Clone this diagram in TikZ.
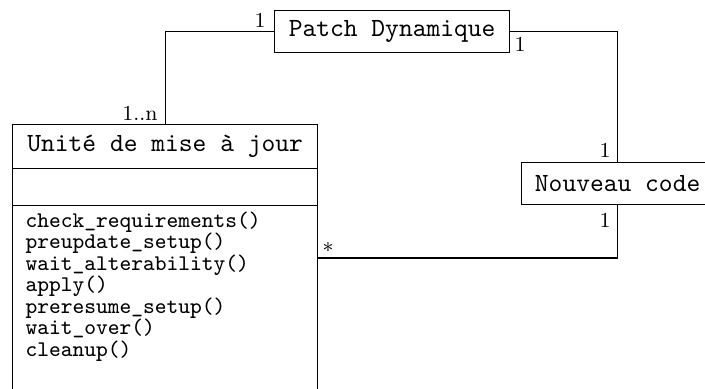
\documentclass[tikz,border=0pt]{standalone}
\usetikzlibrary{calc}
\begin{document}
\begin{tikzpicture}[x=0.4pt, y=-0.4pt, line width=0.5pt,
  box/.style={draw, rectangle, inner sep=0pt, anchor=north west},
  boxtitle/.style={font=\fontsize{10.5}{12}\selectfont\ttfamily},
  method/.style={font=\fontsize{8.95}{10}\selectfont\ttfamily, anchor=base west, inner sep=0pt},
  mult/.style={font=\fontsize{8.5}{10}\selectfont, inner sep=0pt}]
\useasboundingbox (0,0) rectangle (705,388);
\clip (0,0) rectangle (705,388);

% classes
\node[box, boxtitle, minimum width=94pt, minimum height=16.8pt] (patch) at (274,10) {Patch Dynamique};
\node[box, boxtitle, minimum width=76.8pt, minimum height=16.8pt] (nouveau) at (521,162) {Nouveau code};

% class with attribute and method compartments
\node[box, boxtitle, minimum width=122pt, minimum height=17.6pt] (title) at (12,124) {Unité de mise à jour};
\node[box, minimum width=122pt, minimum height=14.8pt] (attrs) at (12,168) {};
\node[box, minimum width=122pt, minimum height=80pt] (methods) at (12,205) {};
\foreach \m [count=\i] in {check\_requirements(), preupdate\_setup(), wait\_alterability(), apply(), preresume\_setup(), wait\_over(), cleanup()}
  \node[method] (op\i) at (25, {227+21.5*(\i-1)}) {\m};

% associations
\draw (patch.west) -| (title.north);
\draw (patch.east) -| (nouveau.north);
\path (methods.north east) ++(0,53) coordinate (assoc);
\draw (nouveau.south) |- (assoc);

% multiplicities
\node[mult] (mpl) at (260,20) {1};
\node[mult] (mpr) at (520,44) {1};
\node[mult] (mu) at (140,113) {1..n};
\node[mult] (mnt) at (605,150) {1};
\node[mult] (mnb) at (605,220) {1};
\node[mult] (mstar) at (328,250.5) {*};
\end{tikzpicture}
\end{document}
